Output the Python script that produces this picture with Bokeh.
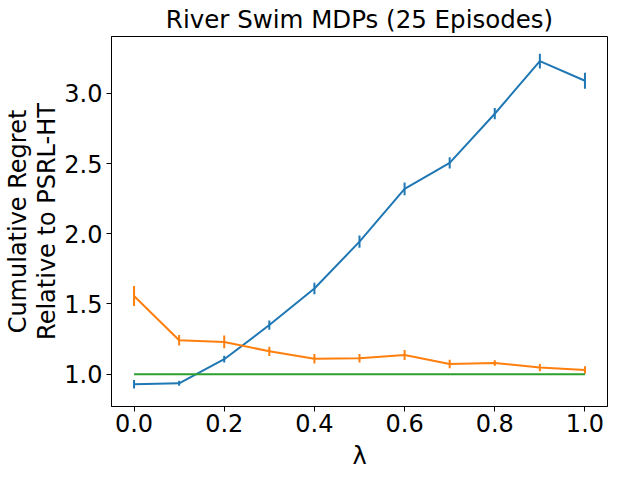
from bokeh.plotting import figure
from bokeh.models import FixedTicker, PrintfTickFormatter, Range1d
from bokeh.embed import file_html
from bokeh.resources import INLINE

lam = [0.0, 0.1, 0.2, 0.3, 0.4, 0.5, 0.6, 0.7, 0.8, 0.9, 1.0]
blue_y = [0.929, 0.935, 1.107, 1.35, 1.61, 1.944, 2.32, 2.505, 2.855, 3.23, 3.09]
blue_err = [0.03, 0.018, 0.024, 0.033, 0.041, 0.043, 0.046, 0.04, 0.04, 0.053, 0.057]
orange_y = [1.557, 1.242, 1.23, 1.163, 1.11, 1.113, 1.137, 1.073, 1.08, 1.047, 1.03]
orange_err = [0.071, 0.038, 0.045, 0.033, 0.033, 0.03, 0.036, 0.03, 0.02, 0.026, 0.026]
green_x = [0.0, 1.0]
green_y = [1.0, 1.0]
x_ticks = [0.0, 0.2, 0.4, 0.6, 0.8, 1.0]
y_ticks = [1.0, 1.5, 2.0, 2.5, 3.0]

FONT = "DejaVu Sans"
FS = "24px"

p = figure(frame_width=496, frame_height=370, output_backend="svg", toolbar_location=None,
           x_range=Range1d(-0.05, 1.05), y_range=Range1d(0.770, 3.405),
           min_border_left=104, min_border_top=30, min_border_right=8, min_border_bottom=62,
           title="River Swim MDPs (25 Episodes)")
p.title.align = "center"
p.title.text_font = FONT
p.title.text_font_size = "24.5px"
p.title.text_font_style = "normal"
p.title.text_color = "black"
p.title.standoff = 5
p.title.offset = 0

p.xgrid.visible = False
p.ygrid.visible = False
p.outline_line_color = "black"
p.outline_line_alpha = 1
p.outline_line_width = 1

for ax in (p.xaxis, p.yaxis):
    ax.major_tick_in = 0
    ax.major_tick_out = 5
    ax.minor_tick_line_color = None
    ax.major_label_text_font = FONT
    ax.major_label_text_font_size = FS
    ax.major_label_text_color = "black"
    ax.axis_label_text_font = FONT
    ax.axis_label_text_font_size = FS
    ax.axis_label_text_font_style = "normal"
    ax.axis_label_text_color = "black"
    ax.axis_label_text_line_height = 1.05
    ax.axis_line_color = "black"
    ax.major_tick_line_color = "black"
    ax.formatter = PrintfTickFormatter(format="%.1f")

p.xaxis.ticker = FixedTicker(ticks=x_ticks)
p.yaxis.ticker = FixedTicker(ticks=y_ticks)
p.xaxis.axis_label = "λ"
p.yaxis.axis_label = "Cumulative Regret\nRelative to PSRL-HT"
p.xaxis.major_label_standoff = 2
p.yaxis.major_label_standoff = 4
p.xaxis.axis_label_standoff = 7
p.yaxis.axis_label_standoff = 0

def errbar(xs, ys, es, color):
    p.line(xs, ys, line_color=color, line_width=2)
    p.segment(x0=xs, x1=xs, y0=[y - e for y, e in zip(ys, es)], y1=[y + e for y, e in zip(ys, es)],
              line_color=color, line_width=2)

errbar(lam, blue_y, blue_err, "#1f77b4")
errbar(lam, orange_y, orange_err, "#ff7f0e")
p.line(green_x, green_y, line_color="#2ca02c", line_width=2)

open("out.html", "w").write(file_html(p, INLINE))
